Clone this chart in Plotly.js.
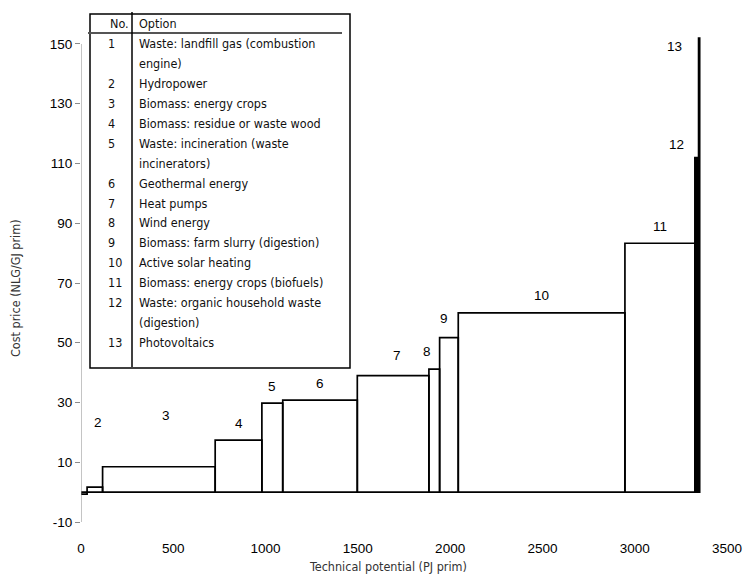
<!DOCTYPE html>
<html>
<head>
<meta charset="utf-8">
<script src="https://cdn.plot.ly/plotly-3.0.1.min.js"></script>
<style>
  html, body { margin: 0; padding: 0; background: #fff; }
  #chart { width: 743px; height: 574px; }
</style>
</head>
<body>
<div id="chart"></div>
<script>
// Renewable energy options: technical potential (PJ prim) and cost price (NLG/GJ prim)
const optionNo = [1, 2, 3, 4, 5, 6, 7, 8, 9, 10, 11, 12, 13];
const optionNames = [
  "Waste: landfill gas (combustion<br>engine)",
  "Hydropower",
  "Biomass: energy crops",
  "Biomass: residue or waste wood",
  "Waste: incineration (waste<br>incinerators)",
  "Geothermal energy",
  "Heat pumps",
  "Wind energy",
  "Biomass: farm slurry (digestion)",
  "Active solar heating",
  "Biomass: energy crops (biofuels)",
  "Waste: organic household waste<br>(digestion)",
  "Photovoltaics"
];
const potentialPJ = [33, 84, 610, 253, 113, 404, 388, 58, 101, 903, 379, 20, 6];
const costPrice = [-0.7, 1.7, 8.5, 17.4, 29.8, 30.8, 39.0, 41.2, 51.7, 60.0, 83.3, 112, 152];

const xTicks = [0, 500, 1000, 1500, 2000, 2500, 3000, 3500];
const yTicks = [-10, 10, 30, 50, 70, 90, 110, 130, 150];

// Cumulative supply curve: each option is a column starting where the previous ends
const left = [];
let acc = 0;
potentialPJ.forEach(w => { left.push(acc); acc += w; });
const mid = left.map((l, i) => l + potentialPJ[i] / 2);

// geometry of the plot area in page pixels
const W = 743, H = 574;
const M = { l: 81, r: 16, t: 37, b: 52 };
const plotW = W - M.l - M.r, plotH = H - M.t - M.b;
const px = p => (p - M.l) / plotW;          // page x -> paper x
const py = p => (H - M.b - p) / plotH;      // page y -> paper y

const yRange = [-10, 152.34];
const zeroPos = (0 - yRange[0]) / (yRange[1] - yRange[0]);

const numFont = { family: "Liberation Sans, Arial, sans-serif", size: 13.5, color: "#000" };
const narrowFont = { family: "DejaVu Sans Condensed, Liberation Sans, sans-serif", size: 12.5, color: "#111" };
const axisGray = "#8a8a8a";

const fills = optionNo.map(n => (n >= 12 ? "#000" : "rgba(0,0,0,0)"));

const traces = [{
  type: "bar",
  x: mid,
  y: costPrice,
  width: potentialPJ,
  marker: { color: fills, line: { color: "#000", width: 1.7 } },
  hoverinfo: "skip",
  showlegend: false
}];

const annotations = [];
const shapes = [];

// vertical axis line, from the lowest to the highest tick
shapes.push({ type: "line", xref: "x", yref: "y",
  x0: 0, x1: 0, y0: yTicks[0], y1: yTicks[yTicks.length - 1],
  line: { color: axisGray, width: 1 }, layer: "above" });

// option numbers above each column
const nudge = {
  2: { dx: 3, dy: 48 },
  3: { dx: 7, dy: 34 },
  7: { dx: 4, dy: 3 },
  8: { dx: -7, dy: 1 },
  9: { dx: -5, dy: 2 }
};
optionNo.forEach((n, i) => {
  if (n === 1) return;
  let a;
  if (n >= 12) {
    a = {
      x: left[i], y: costPrice[i], xanchor: "right", yanchor: "middle",
      xshift: n === 12 ? -9 : -15, yshift: n === 12 ? 13 : -8
    };
  } else {
    const d = nudge[n] || { dx: 0, dy: 0 };
    a = {
      x: mid[i], y: costPrice[i], xanchor: "center", yanchor: "middle",
      xshift: d.dx, yshift: 17 + d.dy
    };
  }
  annotations.push(Object.assign(a, {
    xref: "x", yref: "y", text: String(n), showarrow: false, font: numFont
  }));
});

// table of options
shapes.push({ type: "rect", xref: "paper", yref: "paper",
  x0: px(90), x1: px(350), y0: py(368), y1: py(14),
  line: { color: "#000", width: 1.5 }, fillcolor: "#fff", layer: "above" });
shapes.push({ type: "line", xref: "paper", yref: "paper",
  x0: px(88), x1: px(342), y0: py(33), y1: py(33),
  line: { color: "#555", width: 2 }, layer: "above" });
shapes.push({ type: "line", xref: "paper", yref: "paper",
  x0: px(132), x1: px(132), y0: py(12), y1: py(367),
  line: { color: "#000", width: 1.5 }, layer: "above" });

const cell = (text, xPix, yPix) => ({
  xref: "paper", yref: "paper", x: px(xPix), y: py(yPix),
  xanchor: "left", yanchor: "middle", text: text, showarrow: false, font: narrowFont
});
annotations.push(cell("No.", 108, 23));
annotations.push(cell("Option", 137, 23));
let row = 0;
const rowY = k => 43.8 + 19.9 * k;
optionNo.forEach((n, i) => {
  annotations.push(cell(String(n), 106, rowY(row)));
  optionNames[i].split("<br>").forEach(line => {
    annotations.push(cell(line, 137, rowY(row)));
    row += 1;
  });
});

// axis titles
const titleFont = { family: narrowFont.family, size: 12.5, color: "#333" };
annotations.push({
  xref: "paper", yref: "paper", x: px(388), y: py(557), xanchor: "center", yanchor: "top",
  text: "Technical potential (PJ prim)", showarrow: false, font: titleFont
});
annotations.push({
  xref: "paper", yref: "paper", x: px(15), y: py(288), xanchor: "center", yanchor: "middle",
  textangle: -90, text: "Cost price (NLG/GJ prim)", showarrow: false, font: titleFont
});

const zeroAxis = ticks => ({
  overlaying: "x", matches: "x", anchor: "free", position: zeroPos,
  range: [0, 3500], tickmode: "array", tickvals: xTicks,
  showticklabels: false, ticks: ticks, ticklen: 4, tickwidth: 1, tickcolor: axisGray,
  showline: ticks === "outside", linecolor: axisGray, linewidth: 1,
  showgrid: false, zeroline: false, fixedrange: true
});

const layout = {
  width: W, height: H,
  margin: M,
  paper_bgcolor: "#fff", plot_bgcolor: "rgba(0,0,0,0)",
  showlegend: false,
  barmode: "overlay",
  xaxis: {
    range: [0, 3500], tickmode: "array", tickvals: xTicks, ticktext: xTicks.map(String),
    showline: false, showgrid: false, zeroline: false,
    ticks: "outside", ticklen: 14, tickcolor: "rgba(0,0,0,0)",
    tickfont: numFont, fixedrange: true
  },
  xaxis2: zeroAxis("outside"),
  xaxis3: zeroAxis("inside"),
  yaxis: {
    range: yRange, tickmode: "array", tickvals: yTicks, ticktext: yTicks.map(String),
    showline: false,
    ticks: "outside", ticklen: 5, tickcolor: axisGray,
    showgrid: false, zeroline: false, tickfont: numFont, fixedrange: true
  },
  shapes: shapes,
  annotations: annotations
};

Plotly.newPlot("chart", traces, layout, { staticPlot: true });
</script>
</body>
</html>
